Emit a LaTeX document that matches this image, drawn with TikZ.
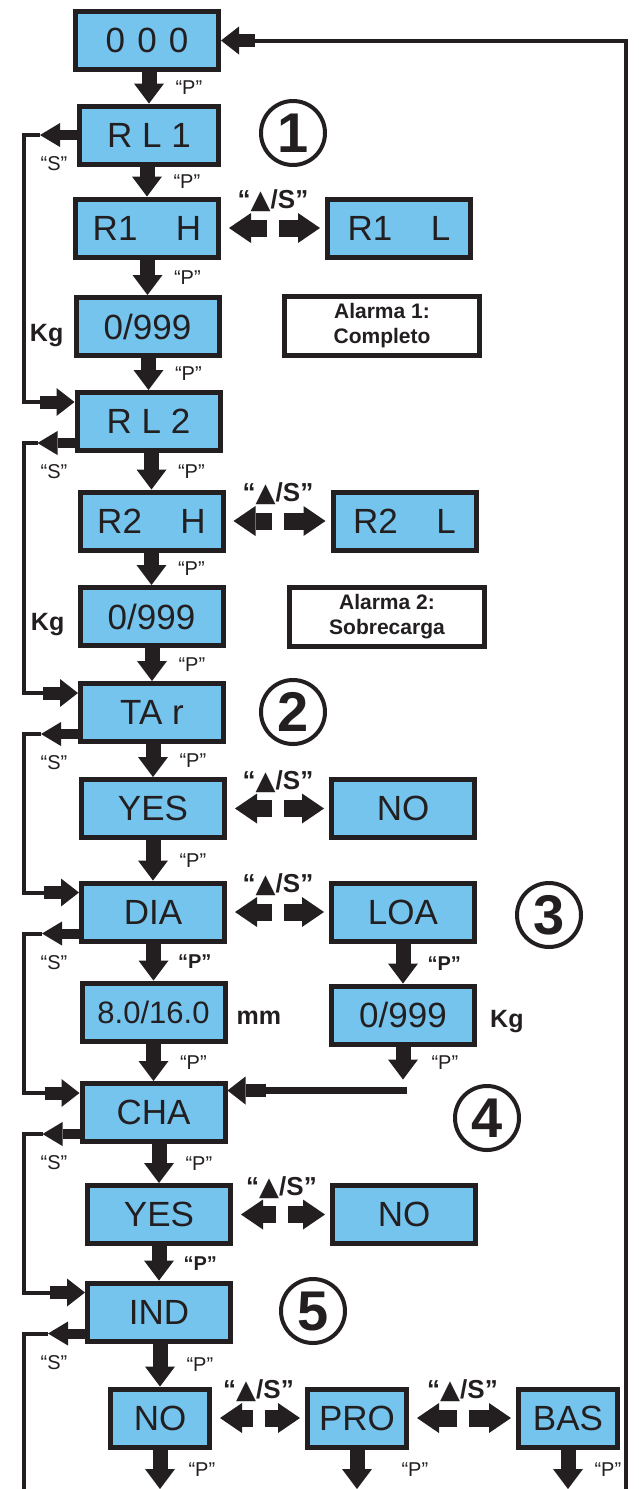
\documentclass[tikz,border=0pt]{standalone}
\usepackage{fontspec}
\setmainfont{Liberation Sans}
\newfontfamily\symb{DejaVu Sans}
\usepackage{xcolor}
\usetikzlibrary{arrows.meta,positioning,calc}
\definecolor{lcdblue}{RGB}{116,196,238}
\definecolor{ink}{RGB}{35,31,32}
\tikzset{
  box/.style={draw=ink, line width=5pt, fill=lcdblue, text=ink, minimum width=143pt,
    minimum height=58pt, inner sep=0pt, font=\fontsize{35}{38}\selectfont},
  smallbox/.style={box, minimum width=99pt},
  note/.style={draw=ink, line width=5pt, fill=white, text=ink, minimum width=195pt,
    minimum height=59pt, inner sep=0pt, align=center, font=\bfseries\fontsize{21}{25}\selectfont},
  num/.style={draw=ink, circle, line width=4pt, minimum size=64pt, inner sep=0pt,
    text=ink, font=\bfseries\fontsize{56}{56}\selectfont},
  lab/.style={text=ink, inner sep=1pt, font=\fontsize{20}{22}\selectfont},
  blab/.style={text=ink, inner sep=1pt, font=\bfseries\fontsize{20}{22}\selectfont},
  slab/.style={text=ink, inner sep=0pt, font=\bfseries\fontsize{26}{28}\selectfont},
  unitlab/.style={text=ink, inner sep=0pt, font=\bfseries\fontsize{25}{28}\selectfont},
  pdown/.style={draw=ink, line width=15pt, -{Triangle[length=20pt, width=30pt, line width=0pt]}},
  sel/.style={draw=ink, line width=17pt, -{Triangle[length=22pt, width=30pt, line width=0pt]}},
  arrout/.style={draw=ink, line width=10pt, -{Triangle[length=20pt, width=24pt, line width=0pt]}},
  arrin/.style={draw=ink, line width=13pt, -{Triangle[length=18pt, width=28pt, line width=0pt]}},
  wire/.style={draw=ink, line width=4pt},
}
\begin{document}
\begin{tikzpicture}[x=1pt, y=-1pt]
  \useasboundingbox (0,0) rectangle (639,1489);
  \coordinate (rail) at (24,0);
  \coordinate (frame) at (626,1489);

  % main column
  \node[box] (b000) at (147,40.5) {0\hspace{0.35em}0\hspace{0.35em}0};
  \node[box, minimum width=139pt] (rl1) at (149,135) {R L 1};
  \node[box] (r1h) at (147,228) {R1\hspace{1.1em}H};
  \node[box] (kg1) at (147.5,326.5) {0/999};
  \node[box] (rl2) at (148.5,421.5) {R L 2};
  \node[box] (r2h) at (151.5,521) {R2\hspace{1.1em}H};
  \node[box] (kg2) at (151.5,616.5) {0/999};
  \node[box] (tar) at (152,712.5) {TA r};
  \node[box] (yes1) at (153,808.5) {YES};
  \node[box] (dia) at (153,912) {DIA};
  \node[box, font=\fontsize{31}{34}\selectfont] (mm16) at (153.5,1012) {8.0/16.0};
  \node[box] (cha) at (153.5,1112.5) {CHA};
  \node[box] (yes2) at (159,1214.5) {YES};
  \node[box] (ind) at (159,1312) {IND};
  \node[smallbox] (no3) at (160,1418) {NO};

  % side boxes
  \node[box, right=104pt of r1h] (r1l) {R1\hspace{1.1em}L};
  \node[box, right=105pt of r2h] (r2l) {R2\hspace{1.1em}L};
  \node[box, right=102pt of yes1] (no1) {NO};
  \node[box, right=102pt of dia] (loa) {LOA};
  \node[box, below=40pt of loa] (kg3) {0/999};
  \node[box, right=97pt of yes2] (no2) {NO};
  \node[smallbox, right=93pt of no3] (pro) {PRO};
  \node[smallbox, right=107pt of pro] (bas) {BAS};
  \node[note] (al1) at (382,326) {Alarma 1:\\Completo};
  \node[note] (al2) at (387,616.5) {Alarma 2:\\Sobrecarga};

  % units
  \node[unitlab, left=10pt of kg1, yshift=-9pt] (u1) {Kg};
  \node[unitlab, left=13pt of kg2, yshift=-8pt] (u2) {Kg};
  \node[unitlab, right=9pt of mm16, yshift=-6pt] (u3) {mm};
  \node[unitlab, right=13pt of kg3, yshift=-7pt] (u4) {Kg};

  % circled steps
  \node[num] (c1) at (293,133) {1};
  \node[num] (c2) at (293,712) {2};
  \node[num] (c3) at (549,915) {3};
  \node[num] (c4) at (487,1118) {4};
  \node[num] (c5) at (313,1311) {5};

  % "P" steps
  \foreach \a/\b in {b000/rl1, rl1/r1h, r1h/kg1, kg1/rl2, rl2/r2h, r2h/kg2, kg2/tar,
      tar/yes1, yes1/dia, mm16/cha, cha/yes2, ind/no3}
    \draw[pdown] (\b.north |- \a.south) -- (\b.north) node[lab, midway, right=18pt] {“P”};
  \foreach \a/\b in {dia/mm16, yes2/ind, loa/kg3}
    \draw[pdown] (\b.north |- \a.south) -- (\b.north) node[blab, midway, right=16pt] {“P”};

  % LOA branch back to CHA
  \coordinate (drop) at ([yshift=-33pt]kg3.south);
  \coordinate (join) at ($(kg3.south)+(4,44)$);
  \draw[pdown] (kg3.south) -- (drop) node[lab, midway, right=20pt] {“P”};
  \draw[draw=ink, line width=7pt] (join) -- ([xshift=37pt]join -| cha.east);
  \draw[arrin] ([xshift=38pt]join -| cha.east) -- (join -| cha.east);

  % bottom exits
  \foreach \n/\d in {no3/20, pro/36, bas/18} {
    \coordinate (e-\n) at (\n.south |- frame);
    \draw[pdown] (\n.south) -- (e-\n) node[lab, midway, right=\d pt] {“P”};
  }

  % "up/S" selections
  \foreach \a/\b in {r1h/r1l, r2h/r2l, yes1/no1, dia/loa, yes2/no2, no3/pro, pro/bas} {
    \coordinate (m) at ($(\a.east)!0.5!(\a.east -| \b.west)$);
    \draw[sel] ($(m)+(-6,0)$) -- ($(\a.east)+(8,0)$);
    \draw[sel] ($(m)+(6,0)$) -- ($(\a.east -| \b.west)+(-5,0)$);
    \node[slab] at ($(m)+(0,-27)$) {“{\symb ▲}/S”};
  }

  % "S" return rail on the left
  \coordinate (o-rl1) at (rl1.west);
  \foreach \n in {rl2,tar,dia,cha,ind} {
    \coordinate (o-\n) at ([yshift=10pt]\n.south west);
    \coordinate (i-\n) at ([yshift=-12pt]\n.north west);
  }
  \foreach \a/\b in {rl1/rl2, rl2/tar, tar/dia, dia/cha, cha/ind} {
    \draw[arrout] (o-\a) -- ++(-37,0) coordinate (t-\a);
    \draw[wire] (t-\a) -- (rail |- t-\a) -- (rail |- i-\b) -- ($(i-\b)+(-35,0)$);
    \draw[arrin] ($(i-\b)+(-35,0)$) -- (i-\b);
    \node[lab] at ($(rail |- o-\a)+(30,29)$) {“S”};
  }
  \draw[arrout] (o-ind) -- ++(-37,0) coordinate (t-ind);
  \draw[wire] (t-ind) -- (rail |- t-ind) -- (rail |- frame);
  \node[lab] at ($(rail |- o-ind)+(30,29)$) {“S”};

  % return to start on the right
  \draw[wire] (frame) |- ($(b000.east)+(34,0)$);
  \draw[arrin] ($(b000.east)+(34,0)$) -- (b000.east);
\end{tikzpicture}
\end{document}
